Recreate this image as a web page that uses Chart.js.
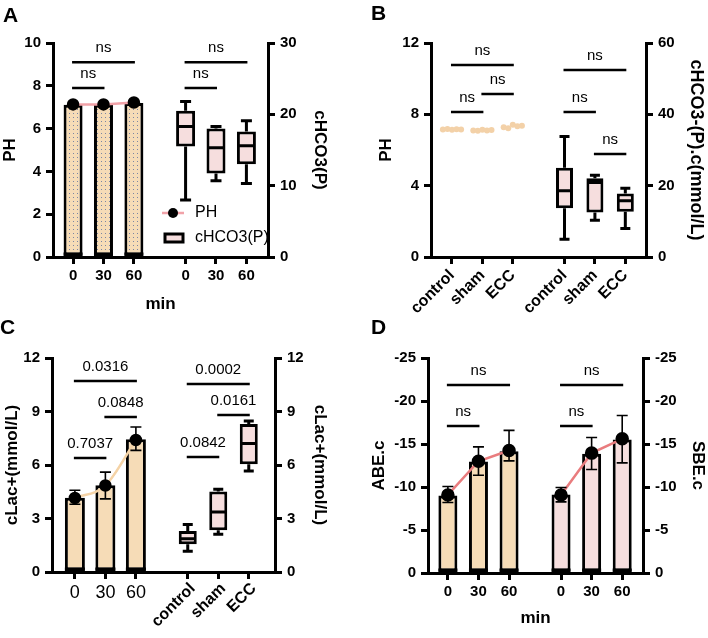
<!DOCTYPE html>
<html><head><meta charset="utf-8">
<script src="https://cdn.jsdelivr.net/npm/chart.js@4.4.1/dist/chart.umd.min.js"></script>
<style>
html,body{margin:0;padding:0;background:#fff;}
#wrap{position:relative;width:708px;height:638px;}
canvas{position:absolute;}
</style></head><body>
<div id="wrap">
<canvas id="cA" width="354" height="319" style="left:0;top:0"></canvas>
<canvas id="cB" width="354" height="319" style="left:354px;top:0"></canvas>
<canvas id="cC" width="354" height="319" style="left:0;top:319px"></canvas>
<canvas id="cD" width="354" height="319" style="left:354px;top:319px"></canvas>
</div>
<script>
// ---------- data ----------
const minLabels = ['0','30','60','0','30','60'];
const groupLabels = ['control','sham','ECC','control','sham','ECC'];
const xPositions = [0,1,2,3.7,4.7,5.7];

// Panel A
const A_ph      = [7.12, 7.12, 7.20];
const A_phMean  = [7.13, 7.13, 7.22];
const A_phErrLo = [7.08, 7.09, 7.13];
const A_phErrHi = [7.18, 7.17, 7.31];
const A_hco3Min = [8.0, 10.7, 10.3];
const A_hco3Q1  = [15.5, 11.7, 13.0];
const A_hco3Med = [18.3, 15.3, 15.6];
const A_hco3Q3  = [20.5, 18.0, 17.6];
const A_hco3Max = [21.8, 18.3, 19.1];

// Panel B
const B_phControl = [7.15, 7.18, 7.14, 7.17, 7.15];
const B_phSham    = [7.10, 7.08, 7.13, 7.09, 7.12];
const B_phECC     = [7.28, 7.22, 7.42, 7.33, 7.36];
const B_phJitter  = [-0.3, -0.15, 0, 0.15, 0.3];
const B_hco3Min = [5.0, 10.3, 8.0];
const B_hco3Q1  = [13.7, 12.5, 12.7];
const B_hco3Med = [18.6, 20.9, 15.8];
const B_hco3Q3  = [25.0, 22.1, 17.8];
const B_hco3Max = [33.8, 22.9, 19.3];

// Panel C
const C_lac      = [4.17, 4.86, 7.44];
const C_lacMean  = [4.15, 4.85, 7.40];
const C_lacErrLo = [3.80, 4.10, 6.82];
const C_lacErrHi = [4.58, 5.60, 8.13];
const C_boxMin = [1.16, 2.11, 5.66];
const C_boxQ1  = [1.55, 2.34, 6.04];
const C_boxMed = [1.87, 3.36, 7.20];
const C_boxQ3  = [2.30, 4.52, 8.30];
const C_boxMax = [2.67, 4.64, 8.47];

// Panel D
const D_abe      = [-9.00, -12.97, -14.17];
const D_abeMean  = [-9.08, -13.00, -14.25];
const D_abeErrLo = [-8.20, -11.37, -13.04];
const D_abeErrHi = [-10.05, -14.67, -16.58];
const D_sbe      = [-9.12, -13.86, -15.53];
const D_sbeMean  = [-9.08, -13.94, -15.60];
const D_sbeErrLo = [-8.27, -12.03, -12.81];
const D_sbeErrHi = [-9.94, -15.76, -18.32];

// ---------- styling ----------
const F = "'Liberation Sans', Arial, sans-serif";
Chart.defaults.font.family = F;
Chart.defaults.color = '#000';
Chart.defaults.animation = false;
const TAN = '#f6dcb7', PINK = '#f6dede', LINE_PINK = '#f1a2a8', LINE_RED = '#e97c7e', LINE_TAN = '#f5d3a6';

function xy(xs, ys){ return ys.map((v,i)=>({x:xs[i], y:v})); }
function xyRange(xs, lo, hi){ return lo.map((v,i)=>({x:xs[i], y:[v, hi[i]]})); }

function dotPattern(){
  const c = document.createElement('canvas'); c.width = 4; c.height = 4;
  const g = c.getContext('2d');
  g.fillStyle = TAN; g.fillRect(0,0,4,4);
  g.fillStyle = '#7b86a3'; g.fillRect(1,1,1,1);
  return g.createPattern(c,'repeat');
}

function yAxis(pos, min, max, step, width, title, titlePad, extra, titleSize){
  return Object.assign({
    type:'linear', position:pos, min:min, max:max,
    afterFit: s => { s.width = width; },
    ticks:{stepSize:step, padding:5, color:'#000', font:{size:15, weight:'bold'}},
    grid:{display:true, drawOnChartArea:false, drawTicks:true, tickLength:7, lineWidth:3, color:'#000'},
    border:{display:true, width:3, color:'#000'},
    title:{display:true, text:title, color:'#000', font:{size:titleSize||17, weight:'bold'}, padding:{top:titlePad, bottom:0}}
  }, extra || {});
}
function xAxis(min, max, labels, height, o){
  o = o || {};
  return {
    type:'linear', position:'bottom', min:min, max:max, offset:false,
    afterBuildTicks: s => { s.ticks = xPositions.map(v=>({value:v})); },
    afterFit: s => { s.height = height; },
    ticks:{autoSkip:false, maxRotation:o.rot||0, minRotation:o.rot||0, padding:o.pad||3, color:'#000',
      font:o.font || {size:15, weight:'bold'},
      callback:(v,i)=>labels[i]},
    grid:{display:true, offset:false, drawOnChartArea:false, drawTicks:true, tickLength:7, lineWidth:3, color:'#000'},
    border:{display:true, width:3, color:'#000'},
    title: o.title ? {display:true, text:o.title, color:'#000', font:{size:17, weight:'bold'}, padding:{top:0, bottom:o.titlePad}} : {display:false}
  };
}

// ---------- plugins ----------
const boxPlugin = {
  id:'boxWhisker',
  afterDatasetsDraw(chart){
    const ctx = chart.ctx;
    chart.data.datasets.forEach((ds,di)=>{
      if(!ds.whisker) return;
      const meta = chart.getDatasetMeta(di);
      const ys = chart.scales[ds.yAxisID];
      const w = ds.whisker;
      meta.data.forEach((el,i)=>{
        const x = el.x, half = el.width/2, cap = w.cap/2;
        const top = Math.min(el.y, el.base), bot = Math.max(el.y, el.base);
        const pMax = ys.getPixelForValue(w.max[i]), pMin = ys.getPixelForValue(w.min[i]);
        const pMed = ys.getPixelForValue(w.med[i]);
        ctx.save(); ctx.strokeStyle='#000'; ctx.lineWidth=3;
        ctx.beginPath();
        ctx.moveTo(x, top); ctx.lineTo(x, pMax);
        ctx.moveTo(x-cap, pMax); ctx.lineTo(x+cap, pMax);
        ctx.moveTo(x, bot); ctx.lineTo(x, pMin);
        ctx.moveTo(x-cap, pMin); ctx.lineTo(x+cap, pMin);
        ctx.moveTo(x-half+1, pMed); ctx.lineTo(x+half-1, pMed);
        ctx.stroke(); ctx.restore();
      });
    });
  }
};
// closes the hairline gap between each bar's bottom border and the x-axis line
const bridgePlugin = {
  id:'bridge',
  afterDatasetsDraw(chart){
    const ctx = chart.ctx, axisY = chart.scales.x.top;
    chart.data.datasets.forEach((ds,di)=>{
      if(ds.type !== 'bar' || ds.whisker) return;
      chart.getDatasetMeta(di).data.forEach(el=>{
        const b = Math.max(el.base, el.y);
        if(axisY > b - 3){
          ctx.save(); ctx.fillStyle = '#000';
          ctx.fillRect(el.x - el.width/2, b - 3, el.width, axisY - b + 3);
          ctx.restore();
        }
      });
    });
  }
};
const errPlugin = {
  id:'errBars',
  afterDatasetsDraw(chart){
    const ctx = chart.ctx;
    chart.data.datasets.forEach((ds,di)=>{
      if(!ds.errorBars) return;
      const meta = chart.getDatasetMeta(di);
      const ys = chart.scales[ds.yAxisID];
      const e = ds.errorBars;
      meta.data.forEach((el,i)=>{
        const x = el.x, c = e.cap/2;
        const pLo = ys.getPixelForValue(e.lo[i]), pHi = ys.getPixelForValue(e.hi[i]);
        ctx.save(); ctx.strokeStyle='#000'; ctx.lineWidth=1.6;
        ctx.beginPath();
        ctx.moveTo(x, pLo); ctx.lineTo(x, pHi);
        ctx.moveTo(x-c, pLo); ctx.lineTo(x+c, pLo);
        ctx.moveTo(x-c, pHi); ctx.lineTo(x+c, pHi);
        ctx.stroke(); ctx.restore();
      });
    });
  }
};
const sigPlugin = {
  id:'sig',
  afterDatasetsDraw(chart, args, o){
    if(!o || !o.items) return;
    const xs = chart.scales.x, ys = chart.scales.y, ctx = chart.ctx;
    ctx.save(); ctx.strokeStyle='#000'; ctx.lineWidth=2.5; ctx.fillStyle='#000';
    ctx.font = '15px ' + F; ctx.textAlign='center'; ctx.textBaseline='middle';
    o.items.forEach(it=>{
      const x1 = xs.getPixelForValue(it[0]), x2 = xs.getPixelForValue(it[1]), y = ys.getPixelForValue(it[2]);
      ctx.beginPath(); ctx.moveTo(x1-1, y); ctx.lineTo(x2+1, y); ctx.stroke();
      ctx.fillText(it[3], (x1+x2)/2, y-14);
    });
    ctx.restore();
  }
};
const letterPlugin = {
  id:'letter',
  afterDraw(chart, args, o){
    if(!o || !o.text) return;
    const ctx = chart.ctx;
    ctx.save(); ctx.font = 'bold 21px ' + F; ctx.fillStyle='#000';
    ctx.textAlign='left'; ctx.textBaseline='alphabetic';
    ctx.fillText(o.text, o.x, o.y); ctx.restore();
  }
};
const rotLabelPlugin = {
  id:'rotLabels',
  afterDraw(chart, args, o){
    if(!o || !o.labels) return;
    const xs = chart.scales.x, ctx = chart.ctx;
    ctx.save(); ctx.font = 'bold 16px ' + F; ctx.fillStyle='#000';
    ctx.textAlign='right'; ctx.textBaseline='middle';
    o.values.forEach((v,i)=>{
      const px = xs.getPixelForValue(v);
      ctx.save(); ctx.translate(px + o.dx, xs.top + o.dy); ctx.rotate(-Math.PI/4);
      ctx.fillText(o.labels[i], 0, 0); ctx.restore();
    });
    ctx.restore();
  }
};
const legendPlugin = {
  id:'customLegend',
  afterDraw(chart, args, o){
    if(!o || !o.show) return;
    const ctx = chart.ctx;
    ctx.save();
    ctx.strokeStyle = LINE_PINK; ctx.lineWidth = 2.5;
    ctx.beginPath(); ctx.moveTo(162, 213); ctx.lineTo(184, 213); ctx.stroke();
    ctx.fillStyle = '#000'; ctx.beginPath(); ctx.arc(173, 213, 5, 0, Math.PI*2); ctx.fill();
    ctx.fillStyle = PINK; ctx.fillRect(165, 234, 18, 8);
    ctx.strokeStyle = '#000'; ctx.lineWidth = 3; ctx.strokeRect(165, 234, 18, 8);
    ctx.fillStyle = '#000'; ctx.font = '16px ' + F; ctx.textAlign='left'; ctx.textBaseline='middle';
    ctx.fillText('PH', 195, 213);
    ctx.fillText('cHCO3(P)', 195, 238);
    ctx.restore();
  }
};
const allPlugins = [bridgePlugin, boxPlugin, errPlugin, sigPlugin, letterPlugin, rotLabelPlugin, legendPlugin];
const basePlugins = {legend:{display:false}, tooltip:{enabled:false}};
const barStyle = {borderColor:'#000', borderWidth:3, borderSkipped:false, grouped:false, inflateAmount:0};

const L3 = xPositions.slice(0,3), R3 = xPositions.slice(3);

// ---------- Panel A ----------
new Chart(document.getElementById('cA'), {
  type:'bar',
  data:{datasets:[
    {type:'line', label:'PH', data:xy(L3, A_phMean), xAxisID:'x', yAxisID:'y', borderColor:LINE_PINK, borderWidth:2.5,
     pointRadius:5, pointBackgroundColor:'#000', pointBorderColor:'#000', order:0,
     errorBars:{lo:A_phErrLo, hi:A_phErrHi, cap:10}},
    Object.assign({type:'bar', label:'PH bars', data:xy(L3, A_ph), xAxisID:'x', yAxisID:'y', backgroundColor:dotPattern(),
     barThickness:19, order:2}, barStyle),
    Object.assign({type:'bar', label:'cHCO3(P)', data:xyRange(R3, A_hco3Q1, A_hco3Q3), xAxisID:'x', yAxisID:'y2', backgroundColor:PINK,
     barThickness:19, order:1, whisker:{min:A_hco3Min, med:A_hco3Med, max:A_hco3Max, cap:11}}, barStyle)
  ]},
  options:{
    responsive:false, devicePixelRatio:1,
    layout:{padding:{top:43, left:0, right:0, bottom:0}},
    scales:{
      x: xAxis(-0.66, 6.41, minLabels, 62, {title:'min', titlePad:4}),
      y: yAxis('left', 0, 10, 2, 53, 'PH', 0),
      y2: yAxis('right', 0, 30, 10, 86, 'cHCO3(P)', 24)
    },
    plugins:Object.assign({}, basePlugins, {
      sig:{items:[[0,2,9.1,'ns'],[0,1,7.9,'ns'],[3.7,5.7,9.1,'ns'],[3.7,4.7,7.9,'ns']]},
      letter:{text:'A', x:3, y:22},
      customLegend:{show:true}
    })
  },
  plugins:allPlugins
});

// ---------- Panel B ----------
function jitter(center, vals){ return vals.map((v,i)=>({x:center + B_phJitter[i], y:v})); }
new Chart(document.getElementById('cB'), {
  type:'bar',
  data:{datasets:[
    {type:'scatter', label:'PH', data:[].concat(jitter(L3[0], B_phControl), jitter(L3[1], B_phSham), jitter(L3[2], B_phECC)),
     xAxisID:'x', yAxisID:'y', pointRadius:3, pointBackgroundColor:'#f3d1a8', pointBorderWidth:0, order:0},
    Object.assign({type:'bar', label:'cHCO3', data:xyRange(R3, B_hco3Q1, B_hco3Q3), xAxisID:'x', yAxisID:'y2', backgroundColor:PINK,
     barThickness:17, order:1, whisker:{min:B_hco3Min, med:B_hco3Med, max:B_hco3Max, cap:10}}, barStyle)
  ]},
  options:{
    responsive:false, devicePixelRatio:1,
    layout:{padding:{top:43, left:0, right:0, bottom:0}},
    scales:{
      x: xAxis(-0.69, 6.38, groupLabels, 62, {rot:45, pad:2, font:{size:16, weight:'bold'}}),
      y: yAxis('left', 0, 12, 4, 77, 'PH', 22),
      y2: yAxis('right', 0, 60, 20, 62, 'cHCO3-(P).c(mmol/L)', 1, null, 18)
    },
    plugins:Object.assign({}, basePlugins, {
      sig:{items:[[0,2,10.77,'ns'],[1,2,9.14,'ns'],[0,1,8.13,'ns'],[3.7,5.7,10.49,'ns'],[3.7,4.7,8.13,'ns'],[4.7,5.7,5.77,'ns']]},
      letter:{text:'B', x:17, y:20}
    })
  },
  plugins:allPlugins
});

// ---------- Panel C ----------
new Chart(document.getElementById('cC'), {
  type:'bar',
  data:{datasets:[
    {type:'line', label:'mean', data:xy(L3, C_lacMean), xAxisID:'x', yAxisID:'y', borderColor:LINE_TAN, borderWidth:2.5,
     tension:0.4, cubicInterpolationMode:'monotone',
     pointRadius:5, pointBackgroundColor:'#000', pointBorderColor:'#000', order:0,
     errorBars:{lo:C_lacErrLo, hi:C_lacErrHi, cap:11}},
    Object.assign({type:'bar', label:'cLac', data:xy(L3, C_lac), xAxisID:'x', yAxisID:'y', backgroundColor:TAN,
     barThickness:20, order:2}, barStyle),
    Object.assign({type:'bar', label:'box', data:xyRange(R3, C_boxQ1, C_boxQ3), xAxisID:'x', yAxisID:'y2', backgroundColor:PINK,
     barThickness:18, order:1, whisker:{min:C_boxMin, med:C_boxMed, max:C_boxMax, cap:10}}, barStyle)
  ]},
  options:{
    responsive:false, devicePixelRatio:1,
    layout:{padding:{top:39, left:0, right:0, bottom:0}},
    scales:{
      x: xAxis(-0.75, 6.56, minLabels.slice(0,3).concat(['','','']), 66, {font:{size:18, weight:'normal'}}),
      y: yAxis('left', 0, 12, 3, 52, 'cLac+(mmol/L)', 2),
      y2: yAxis('right', 0, 12, 3, 79, 'cLac+(mmol/L)', 24)
    },
    plugins:Object.assign({}, basePlugins, {
      sig:{items:[[0,2,10.71,'0.0316'],[1,2,8.69,'0.0848'],[0,1,6.39,'0.7037'],[3.7,5.7,10.54,'0.0002'],[4.7,5.7,8.8,'0.0161'],[3.7,4.7,6.45,'0.0842']]},
      letter:{text:'C', x:0, y:15},
      rotLabels:{values:R3, labels:groupLabels.slice(3), dx:5, dy:14}
    })
  },
  plugins:allPlugins
});

// ---------- Panel D ----------
new Chart(document.getElementById('cD'), {
  type:'bar',
  data:{datasets:[
    {type:'line', label:'ABE mean', data:xy(L3, D_abeMean), xAxisID:'x', yAxisID:'y', borderColor:LINE_RED, borderWidth:2.5,
     pointRadius:5.5, pointBackgroundColor:'#000', pointBorderColor:'#000', order:0,
     errorBars:{lo:D_abeErrLo, hi:D_abeErrHi, cap:11}},
    {type:'line', label:'SBE mean', data:xy(R3, D_sbeMean), xAxisID:'x', yAxisID:'y2', borderColor:LINE_RED, borderWidth:2.5,
     pointRadius:5.5, pointBackgroundColor:'#000', pointBorderColor:'#000', order:0,
     errorBars:{lo:D_sbeErrLo, hi:D_sbeErrHi, cap:11}},
    Object.assign({type:'bar', label:'ABE.c', data:xy(L3, D_abe), xAxisID:'x', yAxisID:'y', backgroundColor:TAN,
     barThickness:19, order:2}, barStyle),
    Object.assign({type:'bar', label:'SBE.c', data:xy(R3, D_sbe), xAxisID:'x', yAxisID:'y2', backgroundColor:PINK,
     barThickness:19, order:2}, barStyle)
  ]},
  options:{
    responsive:false, devicePixelRatio:1,
    layout:{padding:{top:39, left:0, right:0, bottom:0}},
    scales:{
      x: xAxis(-0.65, 6.38, minLabels, 65, {title:'min', titlePad:9}),
      y: yAxis('left', -25, 0, 5, 74, 'ABE.c', 15, {reverse:true}),
      y2: yAxis('right', -25, 0, 5, 65, 'SBE.c', 0, {reverse:true})
    },
    plugins:Object.assign({}, basePlugins, {
      sig:{items:[[0,2,-21.86,'ns'],[0,1,-17.1,'ns'],[3.7,5.7,-21.86,'ns'],[3.7,4.7,-17.1,'ns']]},
      letter:{text:'D', x:17, y:15}
    })
  },
  plugins:allPlugins
});
</script>
</body></html>
